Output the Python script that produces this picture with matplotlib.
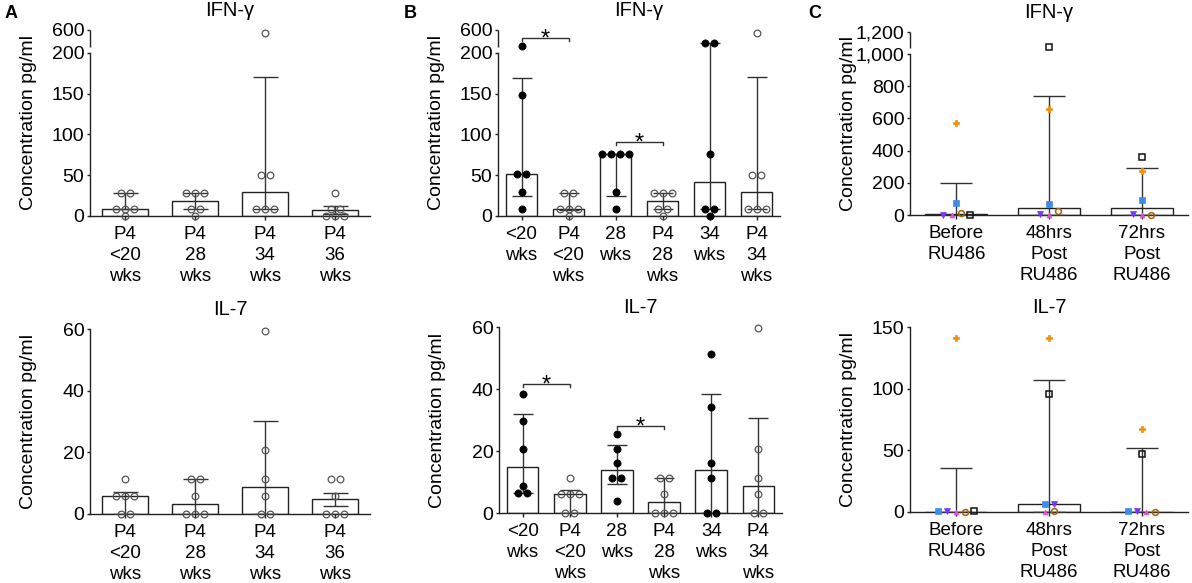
import numpy as np
import matplotlib
matplotlib.use("Agg")
import matplotlib.pyplot as plt

plt.rcParams['font.family'] = ['Liberation Sans', 'DejaVu Sans']

# ---------------- data ----------------
# panel A : P4 treated groups
a_labels = ['P4\n<20\nwks', 'P4\n28\nwks', 'P4\n34\nwks', 'P4\n36\nwks']
a_ifn_points = [[28.6, 28.6, 8.2, 8.2, 8.2, 0],
                [28.6, 28.6, 28.6, 8.2, 8.2, 0],
                [540, 50.7, 50.7, 8.2, 8.2, 8.2],
                [28.6, 8.2, 8.2, 0, 0, 0]]
a_ifn_bar = [8.2, 18.4, 29.4, 7.6]
a_ifn_lo = [8.2, 8.2, 8.2, 3.0]
a_ifn_hi = [28.6, 28.6, 170, 12.7]

a_il7_points = [[11.2, 6.0, 6.0, 6.0, 0, 0],
                [11.2, 11.2, 6.0, 0, 0, 0],
                [59.4, 20.6, 11.2, 6.0, 0, 0],
                [11.2, 11.2, 6.0, 0, 0, 0]]
a_il7_bar = [6.0, 3.1, 8.6, 4.8]
a_il7_lo = [0, 0, 0, 2.6]
a_il7_hi = [7.0, 11.2, 30.2, 6.9]

# panel B : untreated vs P4
b_labels = ['<20\nwks', 'P4\n<20\nwks', '28\nwks', 'P4\n28\nwks', '34\nwks', 'P4\n34\nwks']
b_filled = [True, False, True, False, True, False]
b_ifn_points = [[225, 149, 52, 52, 29, 8.2],
                [28.6, 28.6, 8.2, 8.2, 8.2, 0],
                [75.7, 75.7, 75.7, 75.7, 29, 8.2],
                [28.6, 28.6, 28.6, 8.2, 8.2, 0],
                [285, 300, 75.7, 8.2, 8.2, 0],
                [540, 50.7, 50.7, 8.2, 8.2, 8.2]]
b_ifn_bar = [52, 8.2, 75.7, 18.8, 41.7, 29.8]
b_ifn_lo = [24.5, 7.0, 24.5, 8.2, 8.2, 8.2]
b_ifn_hi = [169, 28.6, 75.7, 28.6, 292, 171]
b_ifn_sig = [(0, 1, 420), (2, 3, 91)]

b_il7_points = [[38.4, 29.8, 20.6, 8.8, 6.3, 6.3],
                [11.3, 6.2, 6.2, 6.2, 0, 0],
                [25.5, 20.6, 16.2, 11.4, 11.4, 3.9],
                [11.3, 11.3, 6.2, 0, 0, 0],
                [51.3, 34.3, 16.2, 11.3, 0, 0],
                [59.6, 20.7, 11.3, 6.2, 0, 0]]
b_il7_bar = [14.7, 6.2, 13.8, 3.4, 13.8, 8.7]
b_il7_lo = [6.3, 0, 9.4, 0, 0, 0]
b_il7_hi = [31.9, 7.4, 21.9, 11.2, 38.4, 30.5]
b_il7_sig = [(0, 1, 41.6), (2, 3, 28)]

# panel C : six subjects before / after RU486
c_labels = ['Before\nRU486', '48hrs\nPost\nRU486', '72hrs\nPost\nRU486']
c_ifn_subjects = [[569, 658, 275],    # orange
                  [72, 70, 93],       # blue
                  [2, 5, 5],          # purple
                  [0, 0, 0],          # magenta
                  [14, 22, 3],        # brown
                  [3, 1010, 358]]     # black
c_ifn_bar = [6, 45, 45]
c_ifn_lo = [0, 2, 2]
c_ifn_hi = [197, 741, 294]

c_il7_subjects = [[141, 141, 67.6],
                  [0.8, 6.3, 0.5],
                  [0.8, 6.5, 0.5],
                  [0, 0, 0],
                  [0, 0.5, 0],
                  [0.8, 95.7, 47.3]]
c_il7_bar = [0, 6.2, 0]
c_il7_lo = [0, 0, 0]
c_il7_hi = [35.4, 107, 52]

c_styles = [('P', '#F0900A', True, 5.0),
            ('s', '#3C8CE8', True, 4.5),
            ('v', '#7B35F0', True, 5.0),
            ('^', '#E050D8', True, 3.5),
            ('o', '#A2620E', False, 4.2),
            ('s', '#111111', False, 4.3)]

INK = '#222222'
W, H = 1192, 583
fig = plt.figure(figsize=(W / 100, H / 100), dpi=100)


def add_ax(left, top, right, bottom):
    return fig.add_axes([left / W, 1 - bottom / H, (right - left) / W, (bottom - top) / H])


def make_break(low_top, jump, k):
    def fwd(y):
        y = np.asarray(y, dtype=float)
        return np.where(y <= low_top, y, low_top + jump + (y - low_top) * k)

    def inv(t):
        t = np.asarray(t, dtype=float)
        up = low_top + (t - low_top - jump) / k
        return np.where(t <= low_top, t, np.where(t < low_top + jump, low_top, up))
    return fwd, inv


def broken_y(ax, low_top, jump, k, top):
    ax.set_yscale('function', functions=make_break(low_top, jump, k))
    ax.set_ylim(0, top)
    ax.spines['left'].set_bounds(0, low_top)
    ax.plot([0, 0], [low_top * 1.00001, top], transform=ax.get_yaxis_transform(),
            color=INK, lw=1.0, clip_on=False, solid_capstyle='butt')


def style(ax, title):
    for s in ['top', 'right']:
        ax.spines[s].set_visible(False)
    for s in ['left', 'bottom']:
        ax.spines[s].set_linewidth(1.0)
        ax.spines[s].set_color(INK)
    ax.tick_params(axis='y', length=2.5, width=1.0, pad=1.5, labelsize=14, color=INK)
    ax.tick_params(axis='x', length=3, width=1.0, pad=4.5, labelsize=13.5, color=INK)
    ax.set_ylabel('Concentration pg/ml', fontsize=14)
    ax.yaxis.set_label_coords(-53 / ax.bbox.width, 0.5)
    ax.set_title(title, fontsize=14.5, pad=10)


def spread(ax, center, vals, d_px=9.0, tol_px=5.0):
    vals = np.asarray(vals, dtype=float)
    ypx = ax.transData.transform(np.column_stack([np.full(len(vals), center), vals]))[:, 1]
    x0 = ax.transData.transform([[0, 0]])[0, 0]
    x1 = ax.transData.transform([[1, 0]])[0, 0]
    unit = d_px / (x1 - x0)
    rows = []
    for i in np.argsort(ypx, kind='stable'):
        if rows and abs(ypx[i] - ypx[rows[-1][0]]) <= tol_px:
            rows[-1].append(i)
        else:
            rows.append([i])
    xs = np.full(len(vals), float(center))
    for row in rows:
        row = sorted(row)
        for j, i in enumerate(row):
            xs[i] = center + (j - (len(row) - 1) / 2) * unit
    return xs


def bars_and_errors(ax, labels, bar, lo, hi, capsize):
    n = len(labels)
    x = np.arange(n)
    bar = np.asarray(bar, dtype=float)
    ax.set_xlim(-0.5, n - 0.5)
    ax.bar(x, bar, width=0.67, color='white', edgecolor=INK, linewidth=1.0, zorder=2)
    ax.errorbar(x, bar, yerr=[bar - np.asarray(lo), np.asarray(hi) - bar], fmt='none',
                ecolor='#333333', elinewidth=1.0, capsize=capsize, capthick=1.0, zorder=3)
    ax.set_xticks(x, labels)
    for lbl in ax.get_xticklabels():
        lbl.set_linespacing(1.3)


def group_points(ax, points, filled):
    for i, vals in enumerate(points):
        xs = spread(ax, i, vals)
        if filled[i]:
            ax.plot(xs, vals, 'o', ms=5.2, mfc='black', mec='black', mew=0.5,
                    zorder=4, clip_on=False)
        else:
            ax.plot(xs, vals, 'o', ms=4.8, mfc='none', mec='#555555', mew=0.9,
                    zorder=4, clip_on=False)


def subject_points(ax, subjects):
    for g in range(len(subjects[0])):
        vals = [s[g] for s in subjects]
        xs = spread(ax, g, vals)
        for k, (m, col, fill, ms) in enumerate(c_styles):
            ax.plot(xs[k], vals[k], marker=m, ms=ms, mfc=col if fill else 'none',
                    mec=col, mew=1.1 if not fill else 0.5, zorder=4, clip_on=False)


def bracket(ax, i1, i2, yval):
    ydisp = ax.transData.transform([[i1, yval]])[0, 1]
    yf = ax.transAxes.inverted().transform([[0, ydisp]])[0, 1]
    h = 3 / ax.bbox.height
    tr = ax.get_xaxis_transform()
    ax.plot([i1, i1, i2, i2], [yf - h, yf, yf, yf - h], color='#333333', lw=1.0,
            transform=tr, clip_on=False)
    ax.annotate('*', xy=((i1 + i2) / 2, yf), xycoords=tr, xytext=(0, -5.5),
                textcoords='offset points', ha='center', va='baseline', fontsize=17)


# ---------------- panel A ----------------
ax = add_ax(90, 30, 370, 216)
style(ax, 'IFN-γ')
broken_y(ax, 200, 7.4, 0.052, 600)
ax.set_yticks([0, 50, 100, 150, 200, 600])
bars_and_errors(ax, a_labels, a_ifn_bar, a_ifn_lo, a_ifn_hi, 9)
group_points(ax, a_ifn_points, [False] * 4)

ax = add_ax(90, 329, 370, 514)
style(ax, 'IL-7')
ax.set_ylim(0, 60)
ax.set_yticks([0, 20, 40, 60])
bars_and_errors(ax, a_labels, a_il7_bar, a_il7_lo, a_il7_hi, 9)
group_points(ax, a_il7_points, [False] * 4)

# ---------------- panel B ----------------
ax = add_ax(498, 30, 780, 216)
style(ax, 'IFN-γ')
broken_y(ax, 200, 7.4, 0.052, 600)
ax.set_yticks([0, 50, 100, 150, 200, 600])
bars_and_errors(ax, b_labels, b_ifn_bar, b_ifn_lo, b_ifn_hi, 7)
group_points(ax, b_ifn_points, b_filled)
for i1, i2, yv in b_ifn_sig:
    bracket(ax, i1, i2, yv)

ax = add_ax(499, 327, 782, 513)
style(ax, 'IL-7')
ax.set_ylim(0, 60)
ax.set_yticks([0, 20, 40, 60])
bars_and_errors(ax, b_labels, b_il7_bar, b_il7_lo, b_il7_hi, 7)
group_points(ax, b_il7_points, b_filled)
for i1, i2, yv in b_il7_sig:
    bracket(ax, i1, i2, yv)

# ---------------- panel C ----------------
ax = add_ax(910, 32, 1188, 215)
style(ax, 'IFN-γ')
broken_y(ax, 1000, 40, 0.483, 1200)
ax.set_yticks([0, 200, 400, 600, 800, 1000, 1200],
              ['0', '200', '400', '600', '800', '1,000', '1,200'])
bars_and_errors(ax, c_labels, c_ifn_bar, c_ifn_lo, c_ifn_hi, 11.5)
subject_points(ax, c_ifn_subjects)

ax = add_ax(910, 327, 1188, 512)
style(ax, 'IL-7')
ax.set_ylim(0, 150)
ax.set_yticks([0, 50, 100, 150])
bars_and_errors(ax, c_labels, c_il7_bar, c_il7_lo, c_il7_hi, 11.5)
subject_points(ax, c_il7_subjects)

# panel letters
for x, letter in [(5, 'A'), (404, 'B'), (808, 'C')]:
    fig.text(x / W, 1 - 13 / H, letter, fontsize=13, fontweight='bold', va='center')

fig.savefig('out.png', dpi=100)
